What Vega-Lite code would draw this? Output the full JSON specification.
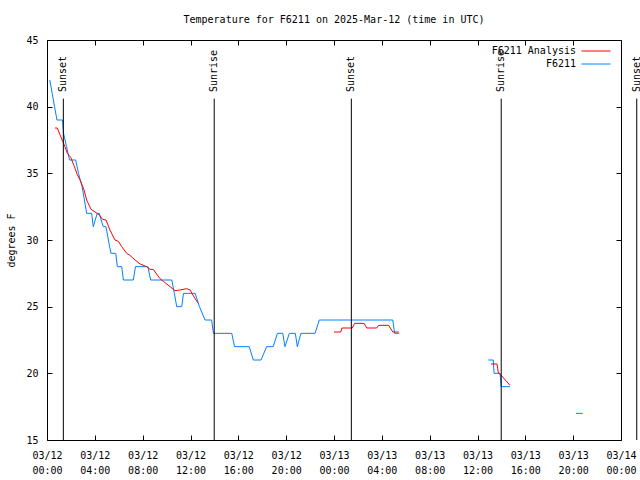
{
  "$schema": "https://vega.github.io/schema/vega-lite/v6.json",
  "width": 574,
  "height": 400,
  "autosize": "none",
  "padding": {"left": 47, "top": 40, "right": 19, "bottom": 40},
  "background": "white",
  "config": {
    "view": {"stroke": "black", "strokeWidth": 1},
    "font": "DejaVu Sans Mono",
    "axis": {"grid": false, "domain": false, "tickColor": "black", "tickSize": -5, "labelColor": "black", "labelFont": "DejaVu Sans Mono", "labelFontSize": 10, "titleFont": "DejaVu Sans Mono", "titleFontSize": 10, "titleFontWeight": "normal", "titleColor": "black"}
  },
  "title": {"text": "Temperature for F6211 on 2025-Mar-12 (time in UTC)", "font": "DejaVu Sans Mono", "fontSize": 10, "fontWeight": "normal", "color": "black", "offset": 10},
  "datasets": {
    "obs": [
      {"series": "F6211", "segment": "b1", "time": "2025-03-12T00:14:00Z", "temp": 42},
      {"series": "F6211", "segment": "b1", "time": "2025-03-12T00:26:00Z", "temp": 41},
      {"series": "F6211", "segment": "b1", "time": "2025-03-12T00:38:00Z", "temp": 40},
      {"series": "F6211", "segment": "b1", "time": "2025-03-12T00:50:00Z", "temp": 39},
      {"series": "F6211", "segment": "b1", "time": "2025-03-12T01:18:00Z", "temp": 39},
      {"series": "F6211", "segment": "b1", "time": "2025-03-12T01:23:00Z", "temp": 38},
      {"series": "F6211", "segment": "b1", "time": "2025-03-12T01:38:00Z", "temp": 37},
      {"series": "F6211", "segment": "b1", "time": "2025-03-12T01:53:00Z", "temp": 36},
      {"series": "F6211", "segment": "b1", "time": "2025-03-12T02:24:00Z", "temp": 36},
      {"series": "F6211", "segment": "b1", "time": "2025-03-12T02:38:00Z", "temp": 35},
      {"series": "F6211", "segment": "b1", "time": "2025-03-12T02:56:00Z", "temp": 34},
      {"series": "F6211", "segment": "b1", "time": "2025-03-12T03:08:00Z", "temp": 33},
      {"series": "F6211", "segment": "b1", "time": "2025-03-12T03:19:00Z", "temp": 32},
      {"series": "F6211", "segment": "b1", "time": "2025-03-12T03:44:00Z", "temp": 32},
      {"series": "F6211", "segment": "b1", "time": "2025-03-12T03:52:00Z", "temp": 31},
      {"series": "F6211", "segment": "b1", "time": "2025-03-12T04:12:00Z", "temp": 32},
      {"series": "F6211", "segment": "b1", "time": "2025-03-12T04:22:00Z", "temp": 32},
      {"series": "F6211", "segment": "b1", "time": "2025-03-12T04:42:00Z", "temp": 31},
      {"series": "F6211", "segment": "b1", "time": "2025-03-12T04:56:00Z", "temp": 31},
      {"series": "F6211", "segment": "b1", "time": "2025-03-12T05:08:00Z", "temp": 30},
      {"series": "F6211", "segment": "b1", "time": "2025-03-12T05:21:00Z", "temp": 29},
      {"series": "F6211", "segment": "b1", "time": "2025-03-12T05:45:00Z", "temp": 29},
      {"series": "F6211", "segment": "b1", "time": "2025-03-12T05:53:00Z", "temp": 28},
      {"series": "F6211", "segment": "b1", "time": "2025-03-12T06:15:00Z", "temp": 28},
      {"series": "F6211", "segment": "b1", "time": "2025-03-12T06:23:00Z", "temp": 27},
      {"series": "F6211", "segment": "b1", "time": "2025-03-12T07:13:00Z", "temp": 27},
      {"series": "F6211", "segment": "b1", "time": "2025-03-12T07:24:00Z", "temp": 28},
      {"series": "F6211", "segment": "b1", "time": "2025-03-12T08:26:00Z", "temp": 28},
      {"series": "F6211", "segment": "b1", "time": "2025-03-12T08:40:00Z", "temp": 27},
      {"series": "F6211", "segment": "b1", "time": "2025-03-12T10:26:00Z", "temp": 27},
      {"series": "F6211", "segment": "b1", "time": "2025-03-12T10:39:00Z", "temp": 26},
      {"series": "F6211", "segment": "b1", "time": "2025-03-12T10:51:00Z", "temp": 25},
      {"series": "F6211", "segment": "b1", "time": "2025-03-12T11:16:00Z", "temp": 25},
      {"series": "F6211", "segment": "b1", "time": "2025-03-12T11:25:00Z", "temp": 26},
      {"series": "F6211", "segment": "b1", "time": "2025-03-12T12:23:00Z", "temp": 26},
      {"series": "F6211", "segment": "b1", "time": "2025-03-12T12:45:00Z", "temp": 25},
      {"series": "F6211", "segment": "b1", "time": "2025-03-12T13:13:00Z", "temp": 24},
      {"series": "F6211", "segment": "b1", "time": "2025-03-12T13:46:00Z", "temp": 24},
      {"series": "F6211", "segment": "b1", "time": "2025-03-12T13:55:00Z", "temp": 23},
      {"series": "F6211", "segment": "b1", "time": "2025-03-12T15:27:00Z", "temp": 23},
      {"series": "F6211", "segment": "b1", "time": "2025-03-12T15:41:00Z", "temp": 22},
      {"series": "F6211", "segment": "b1", "time": "2025-03-12T16:55:00Z", "temp": 22},
      {"series": "F6211", "segment": "b1", "time": "2025-03-12T17:15:00Z", "temp": 21},
      {"series": "F6211", "segment": "b1", "time": "2025-03-12T17:54:00Z", "temp": 21},
      {"series": "F6211", "segment": "b1", "time": "2025-03-12T18:22:00Z", "temp": 22},
      {"series": "F6211", "segment": "b1", "time": "2025-03-12T18:55:00Z", "temp": 22},
      {"series": "F6211", "segment": "b1", "time": "2025-03-12T19:16:00Z", "temp": 23},
      {"series": "F6211", "segment": "b1", "time": "2025-03-12T19:43:00Z", "temp": 23},
      {"series": "F6211", "segment": "b1", "time": "2025-03-12T19:54:00Z", "temp": 22},
      {"series": "F6211", "segment": "b1", "time": "2025-03-12T20:16:00Z", "temp": 23},
      {"series": "F6211", "segment": "b1", "time": "2025-03-12T20:46:00Z", "temp": 23},
      {"series": "F6211", "segment": "b1", "time": "2025-03-12T20:56:00Z", "temp": 22},
      {"series": "F6211", "segment": "b1", "time": "2025-03-12T21:14:00Z", "temp": 23},
      {"series": "F6211", "segment": "b1", "time": "2025-03-12T22:25:00Z", "temp": 23},
      {"series": "F6211", "segment": "b1", "time": "2025-03-12T22:46:00Z", "temp": 24},
      {"series": "F6211", "segment": "b1", "time": "2025-03-13T04:55:00Z", "temp": 24},
      {"series": "F6211", "segment": "b1", "time": "2025-03-13T05:04:00Z", "temp": 23},
      {"series": "F6211", "segment": "b1", "time": "2025-03-13T05:28:00Z", "temp": 23},
      {"series": "F6211", "segment": "b2", "time": "2025-03-13T12:54:00Z", "temp": 21},
      {"series": "F6211", "segment": "b2", "time": "2025-03-13T13:19:00Z", "temp": 21},
      {"series": "F6211", "segment": "b2", "time": "2025-03-13T13:23:00Z", "temp": 20},
      {"series": "F6211", "segment": "b2", "time": "2025-03-13T13:53:00Z", "temp": 20},
      {"series": "F6211", "segment": "b2", "time": "2025-03-13T13:59:00Z", "temp": 19},
      {"series": "F6211", "segment": "b2", "time": "2025-03-13T14:43:00Z", "temp": 19},
      {"series": "F6211", "segment": "b3", "time": "2025-03-13T20:14:00Z", "temp": 17},
      {"series": "F6211", "segment": "b3", "time": "2025-03-13T20:48:00Z", "temp": 17},
      {"series": "F6211 Analysis", "segment": "r1", "time": "2025-03-12T00:40:00Z", "temp": 38.4},
      {"series": "F6211 Analysis", "segment": "r1", "time": "2025-03-12T00:52:00Z", "temp": 38.4},
      {"series": "F6211 Analysis", "segment": "r1", "time": "2025-03-12T01:05:00Z", "temp": 37.9},
      {"series": "F6211 Analysis", "segment": "r1", "time": "2025-03-12T01:19:00Z", "temp": 37.4},
      {"series": "F6211 Analysis", "segment": "r1", "time": "2025-03-12T01:30:00Z", "temp": 37.0},
      {"series": "F6211 Analysis", "segment": "r1", "time": "2025-03-12T01:42:00Z", "temp": 36.5},
      {"series": "F6211 Analysis", "segment": "r1", "time": "2025-03-12T01:59:00Z", "temp": 36.2},
      {"series": "F6211 Analysis", "segment": "r1", "time": "2025-03-12T02:15:00Z", "temp": 35.6},
      {"series": "F6211 Analysis", "segment": "r1", "time": "2025-03-12T02:32:00Z", "temp": 34.9},
      {"series": "F6211 Analysis", "segment": "r1", "time": "2025-03-12T02:49:00Z", "temp": 34.4},
      {"series": "F6211 Analysis", "segment": "r1", "time": "2025-03-12T03:06:00Z", "temp": 33.75},
      {"series": "F6211 Analysis", "segment": "r1", "time": "2025-03-12T03:19:00Z", "temp": 33.0},
      {"series": "F6211 Analysis", "segment": "r1", "time": "2025-03-12T03:41:00Z", "temp": 32.3},
      {"series": "F6211 Analysis", "segment": "r1", "time": "2025-03-12T04:01:00Z", "temp": 32.1},
      {"series": "F6211 Analysis", "segment": "r1", "time": "2025-03-12T04:21:00Z", "temp": 31.9},
      {"series": "F6211 Analysis", "segment": "r1", "time": "2025-03-12T04:39:00Z", "temp": 31.55},
      {"series": "F6211 Analysis", "segment": "r1", "time": "2025-03-12T04:56:00Z", "temp": 31.5},
      {"series": "F6211 Analysis", "segment": "r1", "time": "2025-03-12T05:16:00Z", "temp": 30.75},
      {"series": "F6211 Analysis", "segment": "r1", "time": "2025-03-12T05:41:00Z", "temp": 30.0},
      {"series": "F6211 Analysis", "segment": "r1", "time": "2025-03-12T05:58:00Z", "temp": 29.9},
      {"series": "F6211 Analysis", "segment": "r1", "time": "2025-03-12T06:15:00Z", "temp": 29.5},
      {"series": "F6211 Analysis", "segment": "r1", "time": "2025-03-12T06:40:00Z", "temp": 29.0},
      {"series": "F6211 Analysis", "segment": "r1", "time": "2025-03-12T06:56:00Z", "temp": 28.85},
      {"series": "F6211 Analysis", "segment": "r1", "time": "2025-03-12T07:22:00Z", "temp": 28.5},
      {"series": "F6211 Analysis", "segment": "r1", "time": "2025-03-12T07:47:00Z", "temp": 28.2},
      {"series": "F6211 Analysis", "segment": "r1", "time": "2025-03-12T08:20:00Z", "temp": 28.0},
      {"series": "F6211 Analysis", "segment": "r1", "time": "2025-03-12T08:37:00Z", "temp": 27.8},
      {"series": "F6211 Analysis", "segment": "r1", "time": "2025-03-12T08:53:00Z", "temp": 27.8},
      {"series": "F6211 Analysis", "segment": "r1", "time": "2025-03-12T09:27:00Z", "temp": 27.1},
      {"series": "F6211 Analysis", "segment": "r1", "time": "2025-03-12T09:44:00Z", "temp": 26.9},
      {"series": "F6211 Analysis", "segment": "r1", "time": "2025-03-12T10:01:00Z", "temp": 26.7},
      {"series": "F6211 Analysis", "segment": "r1", "time": "2025-03-12T10:34:00Z", "temp": 26.3},
      {"series": "F6211 Analysis", "segment": "r1", "time": "2025-03-12T10:42:00Z", "temp": 26.2},
      {"series": "F6211 Analysis", "segment": "r1", "time": "2025-03-12T11:07:00Z", "temp": 26.25},
      {"series": "F6211 Analysis", "segment": "r1", "time": "2025-03-12T11:41:00Z", "temp": 26.35},
      {"series": "F6211 Analysis", "segment": "r1", "time": "2025-03-12T11:58:00Z", "temp": 26.25},
      {"series": "F6211 Analysis", "segment": "r1", "time": "2025-03-12T12:23:00Z", "temp": 25.6},
      {"series": "F6211 Analysis", "segment": "r1", "time": "2025-03-12T12:39:00Z", "temp": 25.25},
      {"series": "F6211 Analysis", "segment": "r2", "time": "2025-03-13T00:00:00Z", "temp": 23.1},
      {"series": "F6211 Analysis", "segment": "r2", "time": "2025-03-13T00:34:00Z", "temp": 23.1},
      {"series": "F6211 Analysis", "segment": "r2", "time": "2025-03-13T00:40:00Z", "temp": 23.4},
      {"series": "F6211 Analysis", "segment": "r2", "time": "2025-03-13T01:32:00Z", "temp": 23.4},
      {"series": "F6211 Analysis", "segment": "r2", "time": "2025-03-13T01:44:00Z", "temp": 23.75},
      {"series": "F6211 Analysis", "segment": "r2", "time": "2025-03-13T02:31:00Z", "temp": 23.75},
      {"series": "F6211 Analysis", "segment": "r2", "time": "2025-03-13T02:44:00Z", "temp": 23.4},
      {"series": "F6211 Analysis", "segment": "r2", "time": "2025-03-13T03:34:00Z", "temp": 23.4},
      {"series": "F6211 Analysis", "segment": "r2", "time": "2025-03-13T03:44:00Z", "temp": 23.6},
      {"series": "F6211 Analysis", "segment": "r2", "time": "2025-03-13T04:34:00Z", "temp": 23.6},
      {"series": "F6211 Analysis", "segment": "r2", "time": "2025-03-13T04:55:00Z", "temp": 23.1},
      {"series": "F6211 Analysis", "segment": "r2", "time": "2025-03-13T05:25:00Z", "temp": 23.1},
      {"series": "F6211 Analysis", "segment": "r3", "time": "2025-03-13T13:08:00Z", "temp": 20.7},
      {"series": "F6211 Analysis", "segment": "r3", "time": "2025-03-13T13:38:00Z", "temp": 20.7},
      {"series": "F6211 Analysis", "segment": "r3", "time": "2025-03-13T13:45:00Z", "temp": 20.0},
      {"series": "F6211 Analysis", "segment": "r3", "time": "2025-03-13T13:53:00Z", "temp": 19.95},
      {"series": "F6211 Analysis", "segment": "r3", "time": "2025-03-13T14:43:00Z", "temp": 19.1}
    ],
    "sun": [
      {"event": "Sunset", "time": "2025-03-12T01:22:00Z"},
      {"event": "Sunrise", "time": "2025-03-12T13:59:00Z"},
      {"event": "Sunset", "time": "2025-03-13T01:27:00Z"},
      {"event": "Sunrise", "time": "2025-03-13T13:59:00Z"},
      {"event": "Sunset", "time": "2025-03-14T01:19:00Z"}
    ]
  },
  "layer": [
    {
      "data": {"name": "obs"},
      "mark": {"type": "line", "strokeWidth": 1},
      "encoding": {
        "x": {
          "field": "time", "type": "temporal",
          "scale": {"type": "utc", "domain": [{"year": 2025, "month": 3, "date": 12, "hours": 0, "utc": true}, {"year": 2025, "month": 3, "date": 14, "hours": 0, "utc": true}]},
          "axis": {
            "orient": "bottom", "title": null,
            "values": [
              {"year": 2025, "month": 3, "date": 12, "hours": 0, "utc": true},
              {"year": 2025, "month": 3, "date": 12, "hours": 4, "utc": true},
              {"year": 2025, "month": 3, "date": 12, "hours": 8, "utc": true},
              {"year": 2025, "month": 3, "date": 12, "hours": 12, "utc": true},
              {"year": 2025, "month": 3, "date": 12, "hours": 16, "utc": true},
              {"year": 2025, "month": 3, "date": 12, "hours": 20, "utc": true},
              {"year": 2025, "month": 3, "date": 13, "hours": 0, "utc": true},
              {"year": 2025, "month": 3, "date": 13, "hours": 4, "utc": true},
              {"year": 2025, "month": 3, "date": 13, "hours": 8, "utc": true},
              {"year": 2025, "month": 3, "date": 13, "hours": 12, "utc": true},
              {"year": 2025, "month": 3, "date": 13, "hours": 16, "utc": true},
              {"year": 2025, "month": 3, "date": 13, "hours": 20, "utc": true},
              {"year": 2025, "month": 3, "date": 14, "hours": 0, "utc": true}
            ],
            "labelExpr": "[utcFormat(datum.value, '%m/%d'), utcFormat(datum.value, '%H:%M')]",
            "labelFlush": false, "labelOverlap": false, "labelPadding": 15, "labelLineHeight": 15
          }
        },
        "y": {
          "field": "temp", "type": "quantitative",
          "scale": {"domain": [15, 45], "nice": false, "zero": false},
          "axis": {"orient": "left", "title": "degrees F", "values": [15, 20, 25, 30, 35, 40, 45], "labelPadding": 14, "titlePadding": 9}
        },
        "color": {
          "field": "series", "type": "nominal",
          "scale": {"domain": ["F6211 Analysis", "F6211"], "range": ["#ff0000", "#0080ff"]},
          "legend": {"title": null, "orient": "none", "legendX": 544, "legendY": 6, "symbolType": "M-4,0H4", "symbolSize": 52.5, "symbolStrokeWidth": 1, "labelAlign": "right", "labelOffset": -25, "labelFont": "DejaVu Sans Mono", "labelFontSize": 10, "labelColor": "black", "rowPadding": 3}
        },
        "detail": {"field": "segment", "type": "nominal"}
      }
    },
    {
      "data": {"name": "sun"},
      "mark": {"type": "rule", "color": "black", "strokeWidth": 1},
      "encoding": {
        "x": {"field": "time", "type": "temporal", "axis": null},
        "y": {"datum": 40.6, "axis": null},
        "y2": {"datum": 15}
      }
    },
    {
      "data": {"name": "sun"},
      "mark": {"type": "text", "angle": 270, "align": "left", "baseline": "middle", "font": "DejaVu Sans Mono", "fontSize": 10, "color": "black"},
      "encoding": {
        "x": {"field": "time", "type": "temporal", "axis": null},
        "y": {"datum": 41.1, "axis": null},
        "text": {"field": "event"}
      }
    },
    {
      "data": {"name": "obs"},
      "mark": {"type": "point", "opacity": 0},
      "encoding": {
        "x": {"field": "time", "type": "temporal", "axis": {"orient": "top", "title": null, "labels": false, "values": [
              {"year": 2025, "month": 3, "date": 12, "hours": 0, "utc": true},
              {"year": 2025, "month": 3, "date": 12, "hours": 4, "utc": true},
              {"year": 2025, "month": 3, "date": 12, "hours": 8, "utc": true},
              {"year": 2025, "month": 3, "date": 12, "hours": 12, "utc": true},
              {"year": 2025, "month": 3, "date": 12, "hours": 16, "utc": true},
              {"year": 2025, "month": 3, "date": 12, "hours": 20, "utc": true},
              {"year": 2025, "month": 3, "date": 13, "hours": 0, "utc": true},
              {"year": 2025, "month": 3, "date": 13, "hours": 4, "utc": true},
              {"year": 2025, "month": 3, "date": 13, "hours": 8, "utc": true},
              {"year": 2025, "month": 3, "date": 13, "hours": 12, "utc": true},
              {"year": 2025, "month": 3, "date": 13, "hours": 16, "utc": true},
              {"year": 2025, "month": 3, "date": 13, "hours": 20, "utc": true},
              {"year": 2025, "month": 3, "date": 14, "hours": 0, "utc": true}
            ]}},
        "y": {"field": "temp", "type": "quantitative", "axis": {"orient": "right", "title": null, "labels": false, "values": [15, 20, 25, 30, 35, 40, 45]}}
      }
    }
  ]
}
